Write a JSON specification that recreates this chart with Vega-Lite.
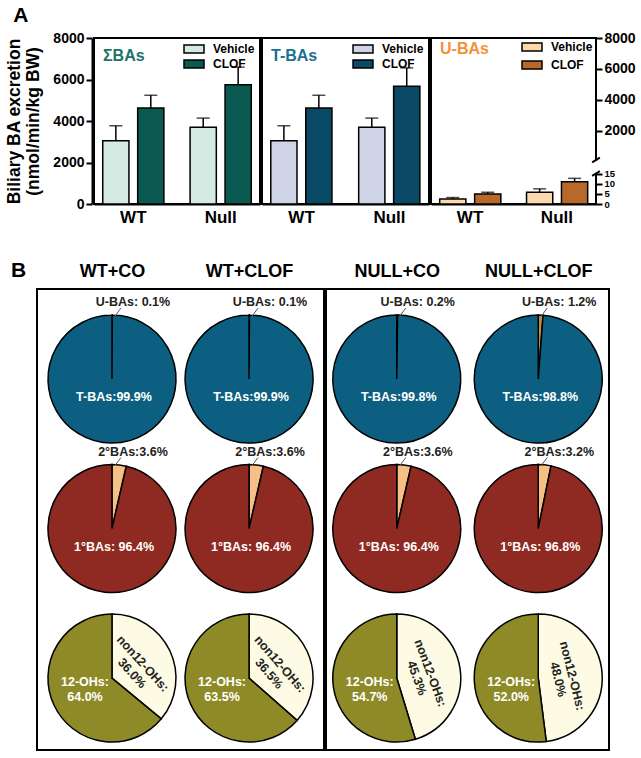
{
  "$schema": "https://vega.github.io/schema/vega-lite/v6.json",
  "padding": {"left": 5, "top": 5, "right": 5, "bottom": 5},
  "config": {
    "font": "Liberation Sans",
    "view": {"stroke": "black", "strokeWidth": 2},
    "axis": {"labelColor": "black", "titleColor": "black", "domainColor": "black", "tickColor": "black", "grid": false},
    "legend": {"orient": "top-right", "offset": 5, "padding": 0, "labelFontSize": 12, "labelFontWeight": "bold", "labelColor": "black", "labelOffset": 13, "symbolType": "M-2,-0.8H2V0.8H-2Z", "symbolSize": 100, "symbolStrokeColor": "black", "symbolStrokeWidth": 1.5, "rowPadding": 1}
  },
  "datasets": {
    "bars": [
      {"panel": "sum", "geno": "WT", "grp": "Vehicle", "value": 3050, "upper": 3770},
      {"panel": "sum", "geno": "WT", "grp": "CLOF", "value": 4630, "upper": 5240},
      {"panel": "sum", "geno": "Null", "grp": "Vehicle", "value": 3700, "upper": 4140},
      {"panel": "sum", "geno": "Null", "grp": "CLOF", "value": 5750, "upper": 6600},
      {"panel": "T", "geno": "WT", "grp": "Vehicle", "value": 3050, "upper": 3770},
      {"panel": "T", "geno": "WT", "grp": "CLOF", "value": 4630, "upper": 5240},
      {"panel": "T", "geno": "Null", "grp": "Vehicle", "value": 3700, "upper": 4140},
      {"panel": "T", "geno": "Null", "grp": "CLOF", "value": 5680, "upper": 6560},
      {"panel": "U", "geno": "WT", "grp": "Vehicle", "value": 2.5, "upper": 3.2},
      {"panel": "U", "geno": "WT", "grp": "CLOF", "value": 5.0, "upper": 5.8},
      {"panel": "U", "geno": "Null", "grp": "Vehicle", "value": 5.8, "upper": 7.5},
      {"panel": "U", "geno": "Null", "grp": "CLOF", "value": 11.0, "upper": 12.7}
    ],
    "gap": [{"a": 17.5, "b": 95}],
    "breaks": [{"a": 16.3}, {"a": 100}],
    "pies": [
      {"cond": "WT+CO", "type": "TU", "slice": "U-BAs", "order": 1, "value": 0.1, "label": "U-BAs: 0.1%"},
      {"cond": "WT+CO", "type": "TU", "slice": "T-BAs", "order": 2, "value": 99.9, "label": "T-BAs:99.9%"},
      {"cond": "WT+CO", "type": "PS", "slice": "2°BAs", "order": 1, "value": 3.6, "label": "2°BAs:3.6%"},
      {"cond": "WT+CO", "type": "PS", "slice": "1°BAs", "order": 2, "value": 96.4, "label": "1°BAs: 96.4%"},
      {"cond": "WT+CO", "type": "OH", "slice": "non12-OHs", "order": 1, "value": 36.0, "label": "non12-OHs:\n36.0%"},
      {"cond": "WT+CO", "type": "OH", "slice": "12-OHs", "order": 2, "value": 64.0, "label": "12-OHs:\n64.0%"},
      {"cond": "WT+CLOF", "type": "TU", "slice": "U-BAs", "order": 1, "value": 0.1, "label": "U-BAs: 0.1%"},
      {"cond": "WT+CLOF", "type": "TU", "slice": "T-BAs", "order": 2, "value": 99.9, "label": "T-BAs:99.9%"},
      {"cond": "WT+CLOF", "type": "PS", "slice": "2°BAs", "order": 1, "value": 3.6, "label": "2°BAs:3.6%"},
      {"cond": "WT+CLOF", "type": "PS", "slice": "1°BAs", "order": 2, "value": 96.4, "label": "1°BAs: 96.4%"},
      {"cond": "WT+CLOF", "type": "OH", "slice": "non12-OHs", "order": 1, "value": 36.5, "label": "non12-OHs:\n36.5%"},
      {"cond": "WT+CLOF", "type": "OH", "slice": "12-OHs", "order": 2, "value": 63.5, "label": "12-OHs:\n63.5%"},
      {"cond": "NULL+CO", "type": "TU", "slice": "U-BAs", "order": 1, "value": 0.2, "label": "U-BAs: 0.2%"},
      {"cond": "NULL+CO", "type": "TU", "slice": "T-BAs", "order": 2, "value": 99.8, "label": "T-BAs:99.8%"},
      {"cond": "NULL+CO", "type": "PS", "slice": "2°BAs", "order": 1, "value": 3.6, "label": "2°BAs:3.6%"},
      {"cond": "NULL+CO", "type": "PS", "slice": "1°BAs", "order": 2, "value": 96.4, "label": "1°BAs: 96.4%"},
      {"cond": "NULL+CO", "type": "OH", "slice": "non12-OHs", "order": 1, "value": 45.3, "label": "non12-OHs:\n45.3%"},
      {"cond": "NULL+CO", "type": "OH", "slice": "12-OHs", "order": 2, "value": 54.7, "label": "12-OHs:\n54.7%"},
      {"cond": "NULL+CLOF", "type": "TU", "slice": "U-BAs", "order": 1, "value": 1.2, "label": "U-BAs: 1.2%"},
      {"cond": "NULL+CLOF", "type": "TU", "slice": "T-BAs", "order": 2, "value": 98.8, "label": "T-BAs:98.8%"},
      {"cond": "NULL+CLOF", "type": "PS", "slice": "2°BAs", "order": 1, "value": 3.2, "label": "2°BAs:3.2%"},
      {"cond": "NULL+CLOF", "type": "PS", "slice": "1°BAs", "order": 2, "value": 96.8, "label": "1°BAs: 96.8%"},
      {"cond": "NULL+CLOF", "type": "OH", "slice": "non12-OHs", "order": 1, "value": 48.0, "label": "non12-OHs:\n48.0%"},
      {"cond": "NULL+CLOF", "type": "OH", "slice": "12-OHs", "order": 2, "value": 52.0, "label": "12-OHs:\n52.0%"}
    ]
  },
  "resolve": {"scale": {"color": "independent"}, "legend": {"color": "independent"}},
  "spacing": 34,
  "vconcat": [
    {
      "title": {"text": "A", "anchor": "start", "fontSize": 21, "fontWeight": "bold", "color": "black", "dx": 8, "offset": 4},
      "spacing": 0,
      "resolve": {"scale": {"color": "independent", "y": "independent"}, "legend": {"color": "independent"}},
      "hconcat": [
        {
          "width": 55, "height": 166,
          "view": {"stroke": null},
          "data": {"name": "bars"},
          "transform": [{"filter": "datum.panel == 'sum'"}],
          "mark": {"type": "point", "opacity": 0},
          "encoding": {
            "y": {"field": "value", "type": "quantitative", "scale": {"domain": [0, 8000], "nice": false}, "axis": {"offset": -55, "values": [0, 2000, 4000, 6000, 8000], "format": "d", "labelFontSize": 14, "labelFontWeight": "bold", "tickSize": 6, "tickWidth": 2, "domainWidth": 2, "title": ["Biliary BA excretion", "(nmol/min/kg BW)"], "titleFontSize": 17.5, "titleFontWeight": "bold", "titlePadding": 10}}
          }
        },
        {
          "width": 166, "height": 166,
          "title": {"text": "ΣBAs", "anchor": "start", "frame": "group", "fontSize": 16, "fontWeight": "bold", "color": "#1d7365", "dx": 9, "offset": -26},
          "data": {"name": "bars"},
          "transform": [{"filter": "datum.panel == 'sum'"}],
          "encoding": {
            "x": {"field": "geno", "type": "nominal", "sort": ["WT", "Null"], "scale": {"paddingInner": 0.3, "paddingOuter": 0.1}, "axis": {"title": null, "labelAngle": 0, "labelFontSize": 17, "labelFontWeight": "bold", "ticks": false, "domainWidth": 2, "labelPadding": 5}},
            "xOffset": {"field": "grp", "sort": ["Vehicle", "CLOF"], "scale": {"paddingInner": 0.25}}
          },
          "layer": [
            {"mark": {"type": "bar", "stroke": "black", "strokeWidth": 1.5},
             "encoding": {
               "y": {"field": "value", "type": "quantitative", "scale": {"domain": [0, 8000], "nice": false}, "axis": null},
               "color": {"field": "grp", "type": "nominal", "scale": {"domain": ["Vehicle", "CLOF"], "range": ["#d3ebe3", "#0b5a52"]}, "legend": {"title": null}}
             }},
            {"mark": {"type": "rule", "strokeWidth": 1.5, "color": "black"},
             "encoding": {"y": {"field": "value", "type": "quantitative"}, "y2": {"field": "upper"}}},
            {"mark": {"type": "tick", "thickness": 1.5, "size": 13, "color": "black"},
             "encoding": {"y": {"field": "upper", "type": "quantitative"}}}
          ]
        },
        {
          "width": 167, "height": 166,
          "title": {"text": "T-BAs", "anchor": "start", "frame": "group", "fontSize": 16, "fontWeight": "bold", "color": "#1b6f95", "dx": 9, "offset": -26},
          "data": {"name": "bars"},
          "transform": [{"filter": "datum.panel == 'T'"}],
          "encoding": {
            "x": {"field": "geno", "type": "nominal", "sort": ["WT", "Null"], "scale": {"paddingInner": 0.3, "paddingOuter": 0.1}, "axis": {"title": null, "labelAngle": 0, "labelFontSize": 17, "labelFontWeight": "bold", "ticks": false, "domainWidth": 2, "labelPadding": 5}},
            "xOffset": {"field": "grp", "sort": ["Vehicle", "CLOF"], "scale": {"paddingInner": 0.25}}
          },
          "layer": [
            {"mark": {"type": "bar", "stroke": "black", "strokeWidth": 1.5},
             "encoding": {
               "y": {"field": "value", "type": "quantitative", "scale": {"domain": [0, 8000], "nice": false}, "axis": null},
               "color": {"field": "grp", "type": "nominal", "scale": {"domain": ["Vehicle", "CLOF"], "range": ["#cfd3e6", "#0b4a66"]}, "legend": {"title": null}}
             }},
            {"mark": {"type": "rule", "strokeWidth": 1.5, "color": "black"},
             "encoding": {"y": {"field": "value", "type": "quantitative"}, "y2": {"field": "upper"}}},
            {"mark": {"type": "tick", "thickness": 1.5, "size": 13, "color": "black"},
             "encoding": {"y": {"field": "upper", "type": "quantitative"}}}
          ]
        },
        {
          "width": 165, "height": 166,
          "title": {"text": "U-BAs", "anchor": "start", "frame": "group", "fontSize": 16, "fontWeight": "bold", "color": "#f39236", "dx": 9, "offset": -26},
          "layer": [
            {
              "data": {"name": "bars"},
              "transform": [{"filter": "datum.panel == 'U'"}],
              "encoding": {
                "x": {"field": "geno", "type": "nominal", "sort": ["WT", "Null"], "scale": {"paddingInner": 0.3, "paddingOuter": 0.1}, "axis": {"title": null, "labelAngle": 0, "labelFontSize": 17, "labelFontWeight": "bold", "ticks": false, "domainWidth": 2, "labelPadding": 5}},
                "xOffset": {"field": "grp", "sort": ["Vehicle", "CLOF"], "scale": {"paddingInner": 0.25}}
              },
              "layer": [
                {"mark": {"type": "bar", "stroke": "black", "strokeWidth": 1.5},
                 "encoding": {
                   "y": {"field": "value", "type": "quantitative", "scale": {"domain": [0, 15, 100, 8000], "range": [166, 135.7, 122, 0], "nice": false, "zero": false}, "axis": {"orient": "right", "values": [0, 5, 10, 15, 2000, 4000, 6000, 8000], "tickCount": 20, "format": "d", "labelFontSize": {"expr": "datum.value < 100 ? 9.5 : 14"}, "labelFontWeight": "bold", "labelOverlap": false, "labelFlush": false, "labelPadding": 2, "tickSize": 6, "tickWidth": 2, "domain": false, "title": null}},
                   "color": {"field": "grp", "type": "nominal", "scale": {"domain": ["Vehicle", "CLOF"], "range": ["#fcd9ad", "#b8692a"]}, "legend": {"title": null, "offset": 3, "rowPadding": 4}}
                 }},
                {"mark": {"type": "rule", "strokeWidth": 1.5, "color": "black"},
                 "encoding": {"y": {"field": "value", "type": "quantitative"}, "y2": {"field": "upper"}}},
                {"mark": {"type": "tick", "thickness": 1.5, "size": 13, "color": "black"},
                 "encoding": {"y": {"field": "upper", "type": "quantitative"}}}
              ]
            },
            {
              "data": {"name": "gap"},
              "mark": {"type": "rect", "color": "white", "opacity": 1, "xOffset": -3, "x2Offset": 3},
              "encoding": {"x": {"value": "width"}, "x2": {"value": "width"}, "y": {"field": "a", "type": "quantitative"}, "y2": {"field": "b"}}
            },
            {
              "data": {"name": "breaks"},
              "mark": {"type": "point", "shape": "M-1,0.6L1,-0.6", "filled": false, "stroke": "black", "strokeWidth": 2, "size": 60, "opacity": 1},
              "encoding": {"x": {"value": "width"}, "y": {"field": "a", "type": "quantitative"}}
            }
          ]
        }
      ]
    },
    {
      "title": {"text": "B", "anchor": "start", "fontSize": 21, "fontWeight": "bold", "color": "black", "dx": -25, "offset": -20, "orient": "top"},
      "spacing": 0,
      "data": {"name": "pies"},
      "hconcat": [
        {
          "width": 287, "height": 461,
          "transform": [
            {"filter": "datum.cond == 'WT+CO' || datum.cond == 'WT+CLOF'"},
            {"stack": "value", "groupby": ["cond", "type"], "sort": [{"field": "order", "order": "ascending"}], "as": ["t0", "t1"]},
            {"calculate": "(datum.t0 + datum.t1) / 2", "as": "tm"}
          ],
          "encoding": {
            "x": {"field": "cond", "type": "nominal", "sort": ["WT+CO", "WT+CLOF"], "scale": {"type": "point", "padding": 0.547}, "axis": {"orient": "top", "title": null, "ticks": false, "domain": false, "labelFontSize": 18, "labelFontWeight": "bold", "labelPadding": 9, "labelAngle": 0}},
            "y": {"field": "type", "type": "nominal", "sort": ["TU", "PS", "OH"], "scale": {"type": "point", "padding": 0.542, "align": 0.556}, "axis": null}
          },
          "layer": [
            {"mark": {"type": "arc", "radius": 64, "stroke": "black", "strokeWidth": 1.5},
             "encoding": {
               "theta": {"field": "t0", "type": "quantitative", "scale": {"domain": [0, 100]}},
               "theta2": {"field": "t1"},
               "color": {"field": "slice", "type": "nominal", "scale": {"domain": ["U-BAs", "T-BAs", "2°BAs", "1°BAs", "non12-OHs", "12-OHs"], "range": ["#c08a48", "#0c5f80", "#f6bf86", "#8e2a22", "#fdfbe3", "#8f8a28"]}, "legend": null}
             }},
            {"transform": [{"filter": "datum.slice == 'T-BAs' || datum.slice == '1°BAs'"}],
             "mark": {"type": "text", "color": "white", "fontWeight": "bold", "fontSize": 12.5, "dy": 18, "dx": 2},
             "encoding": {"text": {"field": "label"}}},
            {"transform": [{"filter": "datum.slice == 'U-BAs' || datum.slice == '2°BAs'"}],
             "mark": {"type": "text", "color": "#222", "fontWeight": "bold", "fontSize": 12.5, "dy": -77, "dx": 21},
             "encoding": {"text": {"field": "label"}}},
            {"transform": [{"filter": "datum.slice == 'U-BAs' || datum.slice == '2°BAs'"}],
             "mark": {"type": "rule", "color": "#555", "strokeWidth": 1, "xOffset": 3, "yOffset": -63, "x2Offset": 9, "y2Offset": -71},
             "encoding": {"x2": {"field": "cond"}, "y2": {"field": "type"}}},
            {"transform": [{"filter": "datum.slice == '12-OHs'"}],
             "mark": {"type": "text", "color": "white", "fontWeight": "bold", "fontSize": 12.5, "dy": 4, "dx": -27, "lineBreak": "\n"},
             "encoding": {"text": {"field": "label"}}},
            {"transform": [{"filter": "datum.slice == 'non12-OHs'"}],
             "mark": {"type": "text", "color": "#222", "fontWeight": "bold", "fontSize": 12.5, "radius": 34, "lineBreak": "\n"},
             "encoding": {"text": {"field": "label"}, "theta": {"field": "tm", "type": "quantitative"}, "angle": {"field": "value", "type": "quantitative", "scale": {"domain": [36, 48], "range": [48, 76]}, "legend": null}}}
          ]
        },
        {
          "width": 283, "height": 461,
          "transform": [
            {"filter": "datum.cond == 'NULL+CO' || datum.cond == 'NULL+CLOF'"},
            {"stack": "value", "groupby": ["cond", "type"], "sort": [{"field": "order", "order": "ascending"}], "as": ["t0", "t1"]},
            {"calculate": "(datum.t0 + datum.t1) / 2", "as": "tm"}
          ],
          "encoding": {
            "x": {"field": "cond", "type": "nominal", "sort": ["NULL+CO", "NULL+CLOF"], "scale": {"type": "point", "padding": 0.5}, "axis": {"orient": "top", "title": null, "ticks": false, "domain": false, "labelFontSize": 18, "labelFontWeight": "bold", "labelPadding": 9, "labelAngle": 0}},
            "y": {"field": "type", "type": "nominal", "sort": ["TU", "PS", "OH"], "scale": {"type": "point", "padding": 0.542, "align": 0.556}, "axis": null}
          },
          "layer": [
            {"mark": {"type": "arc", "radius": 64, "stroke": "black", "strokeWidth": 1.5},
             "encoding": {
               "theta": {"field": "t0", "type": "quantitative", "scale": {"domain": [0, 100]}},
               "theta2": {"field": "t1"},
               "color": {"field": "slice", "type": "nominal", "scale": {"domain": ["U-BAs", "T-BAs", "2°BAs", "1°BAs", "non12-OHs", "12-OHs"], "range": ["#c08a48", "#0c5f80", "#f6bf86", "#8e2a22", "#fdfbe3", "#8f8a28"]}, "legend": null}
             }},
            {"transform": [{"filter": "datum.slice == 'T-BAs' || datum.slice == '1°BAs'"}],
             "mark": {"type": "text", "color": "white", "fontWeight": "bold", "fontSize": 12.5, "dy": 18, "dx": 2},
             "encoding": {"text": {"field": "label"}}},
            {"transform": [{"filter": "datum.slice == 'U-BAs' || datum.slice == '2°BAs'"}],
             "mark": {"type": "text", "color": "#222", "fontWeight": "bold", "fontSize": 12.5, "dy": -77, "dx": 21},
             "encoding": {"text": {"field": "label"}}},
            {"transform": [{"filter": "datum.slice == 'U-BAs' || datum.slice == '2°BAs'"}],
             "mark": {"type": "rule", "color": "#555", "strokeWidth": 1, "xOffset": 3, "yOffset": -63, "x2Offset": 9, "y2Offset": -71},
             "encoding": {"x2": {"field": "cond"}, "y2": {"field": "type"}}},
            {"transform": [{"filter": "datum.slice == '12-OHs'"}],
             "mark": {"type": "text", "color": "white", "fontWeight": "bold", "fontSize": 12.5, "dy": 4, "dx": -27, "lineBreak": "\n"},
             "encoding": {"text": {"field": "label"}}},
            {"transform": [{"filter": "datum.slice == 'non12-OHs'"}],
             "mark": {"type": "text", "color": "#222", "fontWeight": "bold", "fontSize": 12.5, "radius": 34, "lineBreak": "\n"},
             "encoding": {"text": {"field": "label"}, "theta": {"field": "tm", "type": "quantitative"}, "angle": {"field": "value", "type": "quantitative", "scale": {"domain": [36, 48], "range": [48, 76]}, "legend": null}}}
          ]
        }
      ]
    }
  ]
}
